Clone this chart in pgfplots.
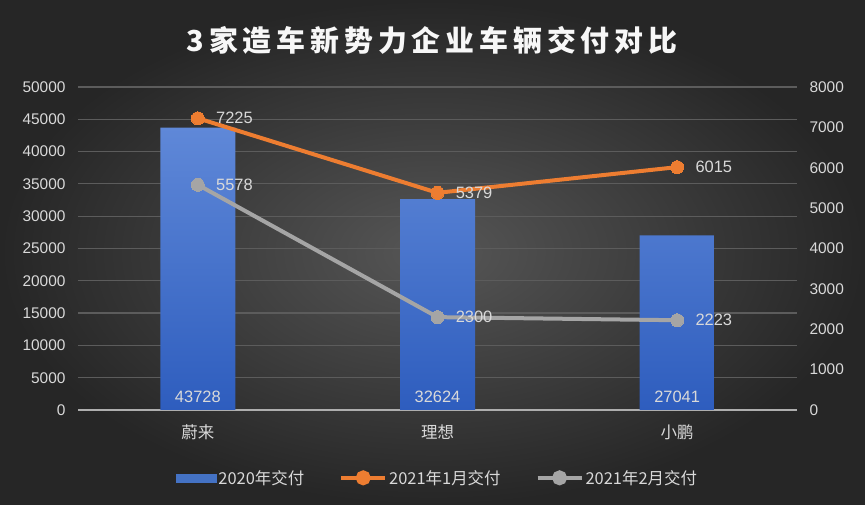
\documentclass[border=0pt]{standalone}
\usepackage{pgfplots}
\pgfplotsset{compat=1.18}
\usepackage{fontspec}
\setmainfont{Liberation Sans}
\newfontfamily\cjk{Noto Sans CJK SC}
\newfontfamily\cjktitle[LetterSpace=17]{Noto Sans CJK SC}
\definecolor{txt}{HTML}{D9D9D9}
\definecolor{gridc}{HTML}{5C5C5C}
\definecolor{ora}{HTML}{ED7D31}
\definecolor{gry}{HTML}{A5A5A5}
\definecolor{barTop}{HTML}{5F88D8}
\definecolor{barBot}{HTML}{2E5DBE}
\definecolor{barMid}{HTML}{4472C4}
\pgfplotsset{
  /pgf/number format/assume math mode=true,
  /pgf/number format/1000 sep={},
  common/.style={
    at={(78bp,95bp)}, anchor=south west, scale only axis,
    width=719bp, height=323bp,
    xmin=-0.5, xmax=2.5, ymin=0,
    major tick length=0pt, tick style={draw=none},
    y tick label style={font=\fontsize{15.5}{18}\selectfont, text=txt},
    scaled y ticks=false,
  }
}
\begin{document}
\begin{tikzpicture}[x=1bp,y=1bp]
\shade[inner color={rgb,255:red,86;green,86;blue,86}, outer color={rgb,255:red,38;green,38;blue,38}] (0,0) rectangle (865,505);
\node[text=white!94!gray, font=\cjktitle\bfseries\fontsize{29}{34}\selectfont] at (432,465) {3家造车新势力企业车辆交付对比};
\begin{axis}[common,
  ymax=50000, ytick distance=5000,
  xtick={0,1,2}, xticklabels={蔚来,理想,小鹏},
  x tick label style={font=\cjk\fontsize{16.5}{19}\selectfont, text=txt, yshift=-11bp},
  ymajorgrids, grid style={draw=gridc, line width=1.2bp},
  axis x line*=bottom, x axis line style={draw=gry!90, line width=1.5bp, -},
  axis y line*=left, y axis line style={draw=none},
  y tick label style={xshift=-9bp},
]
\addplot[ybar, bar width=75bp, draw=none, top color=barTop, bottom color=barBot]
  coordinates {(0,43728) (1,32624) (2,27041)};
\addplot[draw=none, mark=none, nodes near coords, point meta=explicit symbolic,
  nodes near coords style={text=txt, font=\fontsize{16.5}{19}\selectfont, anchor=base, yshift=7bp}]
  coordinates {(0,0)[43728] (1,0)[32624] (2,0)[27041]};
\end{axis}
\begin{axis}[common,
  ymax=8000, ytick distance=1000,
  axis x line=none,
  axis y line*=right, y axis line style={draw=none},
  y tick label style={xshift=9bp},
  legend style={at={(0.5,-0.21)}, anchor=center, legend columns=3, draw=none, fill=none,
    text=txt, font=\cjk\fontsize{16.5}{19}\selectfont,
    /tikz/every even column/.append style={column sep=33bp}},
  nodes near coords style={text=txt, font=\fontsize{16.5}{19}\selectfont, anchor=west, xshift=15bp},
]
\addlegendimage{legend image code/.code={\fill[barMid] (0bp,-4bp) rectangle (40bp,4bp);}}
\addlegendentry{2020年交付}
\addplot[ora, line width=4bp, mark=*, mark size=6.5bp, mark options={fill=ora, draw=ora, line width=0pt},
  nodes near coords, point meta=y,
  legend image code/.code={\draw[ora, line width=4bp] (0bp,0bp) -- (44bp,0bp); \fill[ora] (22bp,0bp) circle (5.5bp);}]
  coordinates {(0,7225) (1,5379) (2,6015)};
\addlegendentry{2021年1月交付}
\addplot[gry, line width=4bp, mark=*, mark size=6.5bp, mark options={fill=gry, draw=gry, line width=0pt},
  nodes near coords, point meta=y,
  legend image code/.code={\draw[gry, line width=4bp] (0bp,0bp) -- (44bp,0bp); \fill[gry] (22bp,0bp) circle (5.5bp);}]
  coordinates {(0,5578) (1,2300) (2,2223)};
\addlegendentry{2021年2月交付}
\end{axis}
\end{tikzpicture}
\end{document}
